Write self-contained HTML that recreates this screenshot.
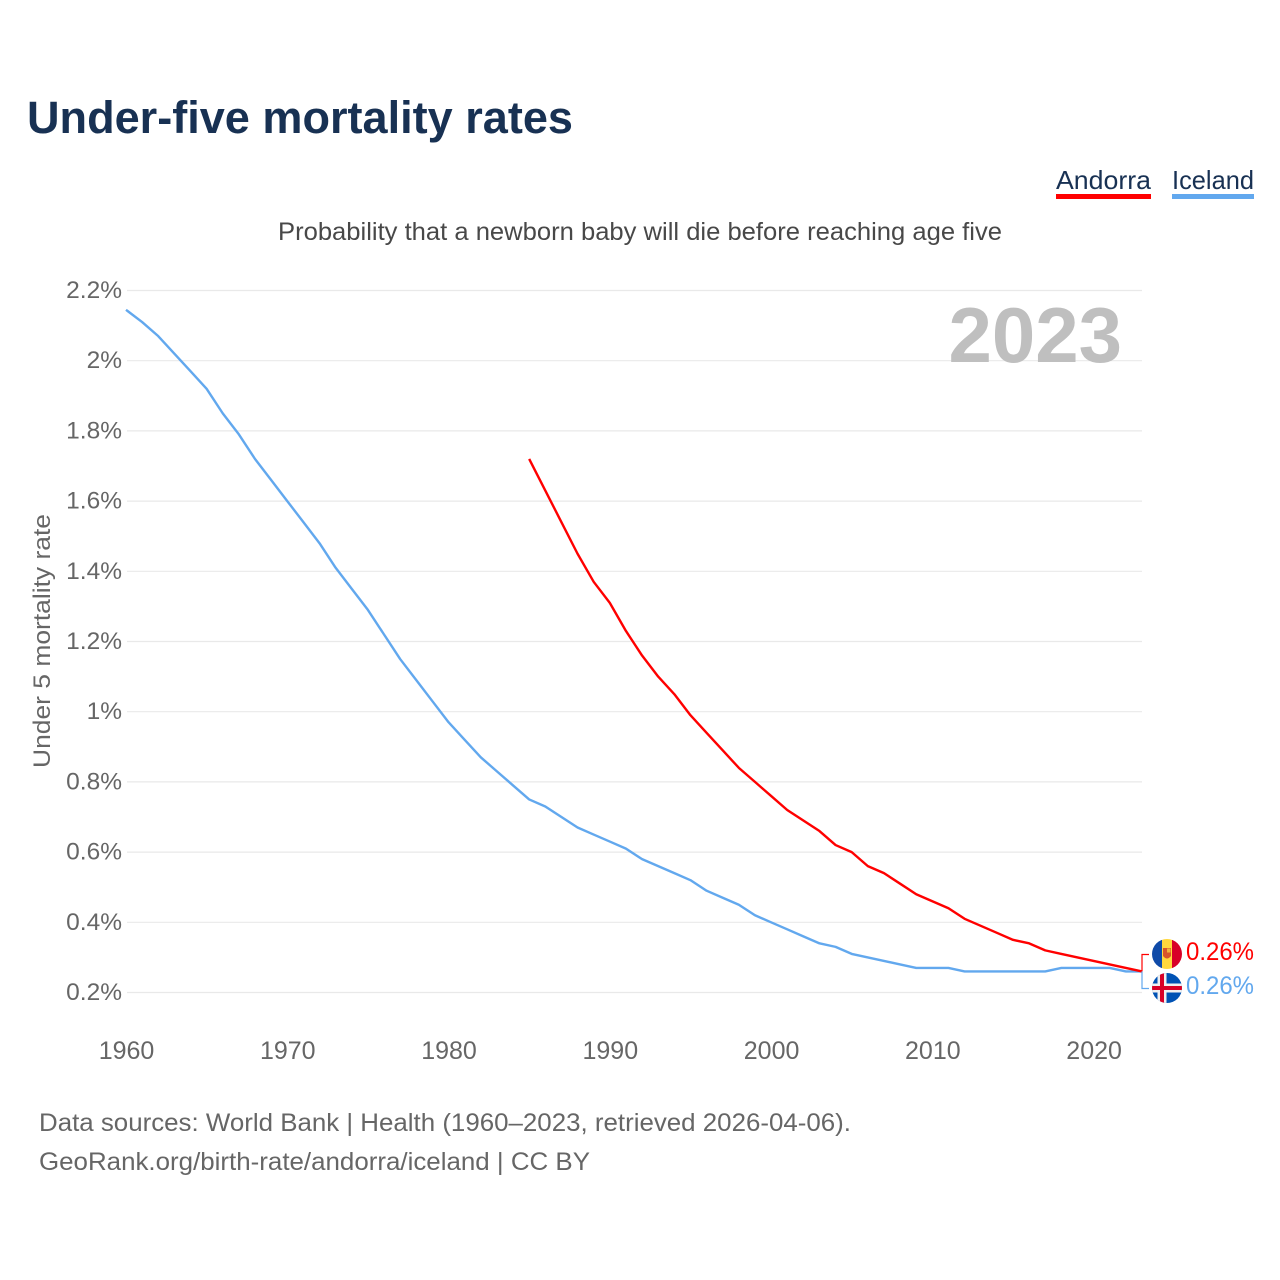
<!DOCTYPE html>
<html lang="en">
<head>
<meta charset="utf-8">
<title>Under-five mortality rates</title>
<style>
html,body{margin:0;padding:0;background:#fff;width:1280px;height:1280px;overflow:hidden}
svg{display:block}
text{font-family:"Liberation Sans",sans-serif}
</style>
</head>
<body>
<svg id="chart" width="1280" height="1280" viewBox="0 0 1280 1280" xmlns="http://www.w3.org/2000/svg">
  <rect width="1280" height="1280" fill="#fff"/>
  <text x="27" y="133" font-size="45" font-weight="700" fill="#183153" textLength="546" lengthAdjust="spacingAndGlyphs">Under-five mortality rates</text>

  <g>
    <text x="1056" y="189" font-size="26" fill="#183153" textLength="95" lengthAdjust="spacingAndGlyphs">Andorra</text>
    <rect x="1056" y="194" width="95" height="5" fill="#ff0000"/>
  </g>
  <g>
    <text x="1172" y="189" font-size="26" fill="#183153" textLength="82" lengthAdjust="spacingAndGlyphs">Iceland</text>
    <rect x="1172" y="194" width="82" height="5" fill="#62a8ee"/>
  </g>

  <text x="278" y="240" font-size="25" fill="#484848" textLength="724" lengthAdjust="spacingAndGlyphs">Probability that a newborn baby will die before reaching age five</text>

  <g id="grid"></g>
  <g id="yticks"></g>
  <g id="xticks"></g>

  <text transform="translate(50,641) rotate(-90)" text-anchor="middle" font-size="24.5" fill="#666" textLength="254" lengthAdjust="spacingAndGlyphs">Under 5 mortality rate</text>

  <text x="1122" y="362" text-anchor="end" font-size="78" font-weight="700" fill="#bfbfbf">2023</text>

  <g id="series"></g>

  <g id="end-labels">
    <defs>
      <clipPath id="clip-ad"><circle cx="1167" cy="954" r="15"/></clipPath>
      <clipPath id="clip-is"><circle cx="1167" cy="988" r="15"/></clipPath>
    </defs>
    <polyline id="conn-ad" fill="none" stroke="#ff0000" stroke-width="1.2"/>
    <polyline id="conn-is" fill="none" stroke="#62a8ee" stroke-width="1.2"/>
    <g clip-path="url(#clip-ad)">
      <rect x="1152" y="939" width="10" height="30" fill="#0f4aa8"/>
      <rect x="1162" y="939" width="10" height="30" fill="#ffd83d"/>
      <rect x="1172" y="939" width="10" height="30" fill="#d80027"/>
      <path d="M1163 948h8v8q-4 5-8 0z" fill="#d8542a"/>
      <rect x="1167" y="948.5" width="3.5" height="4" fill="#f0b23c"/>
    </g>
    <g clip-path="url(#clip-is)">
      <rect x="1152" y="973" width="30" height="30" fill="#0052b4"/>
      <rect x="1152" y="983.5" width="30" height="9" fill="#f0f0f0"/>
      <rect x="1157.5" y="973" width="9" height="30" fill="#f0f0f0"/>
      <rect x="1152" y="986" width="30" height="4" fill="#d80027"/>
      <rect x="1160" y="973" width="4" height="30" fill="#d80027"/>
    </g>
    <text id="val-ad" x="1186" y="960" font-size="25" fill="#ff0000" textLength="68" lengthAdjust="spacingAndGlyphs"></text>
    <text id="val-is" x="1186" y="994" font-size="25" fill="#62a8ee" textLength="68" lengthAdjust="spacingAndGlyphs"></text>
  </g>

  <text x="39" y="1131" font-size="25" fill="#666" textLength="812" lengthAdjust="spacingAndGlyphs">Data sources: World Bank | Health (1960–2023, retrieved 2026-04-06).</text>
  <text x="39" y="1170" font-size="25" fill="#666" textLength="551" lengthAdjust="spacingAndGlyphs">GeoRank.org/birth-rate/andorra/iceland | CC BY</text>
</svg>
<script>
const yTickValues = [0.2,0.4,0.6,0.8,1,1.2,1.4,1.6,1.8,2,2.2];
const xTickValues = [1960,1970,1980,1990,2000,2010,2020];
const icelandStartYear = 1960;
const icelandValues = [2.145,2.11,2.07,2.02,1.97,1.92,1.85,1.79,1.72,1.66,1.60,1.54,1.48,1.41,1.35,1.29,1.22,1.15,1.09,1.03,0.97,0.92,0.87,0.83,0.79,0.75,0.73,0.70,0.67,0.65,0.63,0.61,0.58,0.56,0.54,0.52,0.49,0.47,0.45,0.42,0.40,0.38,0.36,0.34,0.33,0.31,0.30,0.29,0.28,0.27,0.27,0.27,0.26,0.26,0.26,0.26,0.26,0.26,0.27,0.27,0.27,0.27,0.26,0.26];
const andorraStartYear = 1985;
const andorraValues = [1.72,1.63,1.54,1.45,1.37,1.31,1.23,1.16,1.10,1.05,0.99,0.94,0.89,0.84,0.80,0.76,0.72,0.69,0.66,0.62,0.60,0.56,0.54,0.51,0.48,0.46,0.44,0.41,0.39,0.37,0.35,0.34,0.32,0.31,0.30,0.29,0.28,0.27,0.26];

const NS = 'http://www.w3.org/2000/svg';
const xScale = year => 126 + (year - 1960) * (1142 - 126) / 63;
const yScale = value => 992.5 - (value - 0.2) * (992.5 - 290.5) / 2;

function make(tag, attrs, parent) {
  const el = document.createElementNS(NS, tag);
  for (const k in attrs) el.setAttribute(k, attrs[k]);
  parent.appendChild(el);
  return el;
}

const gridG = document.getElementById('grid');
const yG = document.getElementById('yticks');
yTickValues.forEach(v => {
  const line = make('line', {x1: 127, x2: 1142, y1: yScale(v), y2: yScale(v), stroke: '#e9e9e9', 'stroke-width': 1.2}, gridG);
  
  
  const t = make('text', {x: 122, y: yScale(v) + 7.5, 'text-anchor': 'end', 'font-size': 24.5, fill: '#666'}, yG);
  
  
  t.textContent = v + '%';
});

const xG = document.getElementById('xticks');
xTickValues.forEach(y => {
  const t = make('text', {x: xScale(y) + 0.5, y: 1059, 'text-anchor': 'middle', 'font-size': 25, fill: '#666'}, xG);
  
  
  t.textContent = y;
});

function toPoints(start, values) {
  return values.map((v, i) => xScale(start + i).toFixed(2) + ',' + yScale(v).toFixed(2)).join(' ');
}
const seriesG = document.getElementById('series');
const icelandLine = make('polyline', {points: toPoints(icelandStartYear, icelandValues), fill: 'none', stroke: '#62a8ee', 'stroke-width': 2.4, 'stroke-linejoin': 'round'}, seriesG);


const andorraLine = make('polyline', {points: toPoints(andorraStartYear, andorraValues), fill: 'none', stroke: '#ff0000', 'stroke-width': 2.4, 'stroke-linejoin': 'round'}, seriesG);



const adLast = andorraValues[andorraValues.length - 1];
const isLast = icelandValues[icelandValues.length - 1];
document.getElementById('conn-ad').setAttribute('points', '1142,' + yScale(adLast).toFixed(1) + ' 1142,954.5 1149,954.5');
document.getElementById('conn-is').setAttribute('points', '1142,' + yScale(isLast).toFixed(1) + ' 1142,988.5 1149,988.5');
document.getElementById('val-ad').textContent = adLast.toFixed(2) + '%';
document.getElementById('val-is').textContent = isLast.toFixed(2) + '%';
</script>
</body>
</html>
